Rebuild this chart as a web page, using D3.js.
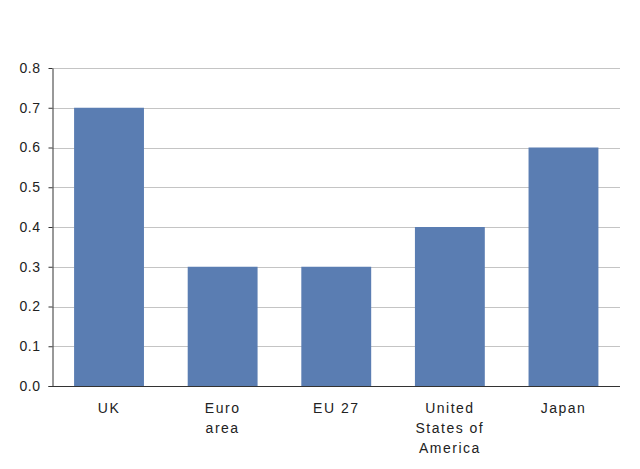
<!DOCTYPE html>
<html><head><meta charset="utf-8">
<script src="https://cdn.jsdelivr.net/npm/d3@7"></script>
<style>body{margin:0;background:#fff}svg{display:block}text{font-family:"Liberation Sans",Arial,sans-serif;fill:#222}</style>
</head><body><svg id="c" width="640" height="469"></svg>
<script>
const categories = [["UK"], ["Euro","area"], ["EU 27"], ["United","States of","America"], ["Japan"]];
const values = [0.7, 0.3, 0.3, 0.4, 0.6];
const yTicks = [0,0.1,0.2,0.3,0.4,0.5,0.6,0.7,0.8];

const svg = d3.select("#c");
const m = {l:52.5, r:620, t:68, b:386};
const names = categories.map(c=>c.join(" "));
const x = d3.scaleBand().domain(names).range([m.l, m.r]).paddingInner(0.385).paddingOuter(0.19);
const y = d3.scaleLinear().domain([0,0.8]).range([m.b, m.t]);

svg.append("g").selectAll("line").data(yTicks.slice(1)).join("line")
  .attr("x1", m.l).attr("x2", m.r).attr("y1", d=>Math.round(y(d))+0.5).attr("y2", d=>Math.round(y(d))+0.5)
  .attr("stroke", "#c4c4c4").attr("stroke-width", 1);

svg.append("g").selectAll("rect").data(values).join("rect")
  .attr("x", (d,i)=>x(names[i])).attr("width", x.bandwidth())
  .attr("y", d=>y(d)).attr("height", d=>m.b - y(d))
  .attr("fill", "#5a7db2");

const ya = svg.append("g").attr("transform", `translate(${m.l},0)`)
  .call(d3.axisLeft(y).tickValues(yTicks).tickFormat(d3.format(".1f")).tickSize(4).tickSizeOuter(0));
ya.select(".domain").attr("stroke", "#333");
ya.selectAll(".tick line").attr("stroke", "#333");
ya.selectAll(".tick text").attr("font-size", 14).attr("letter-spacing", "0.5px").attr("x", -12).attr("fill","#222");

svg.append("line").attr("x1", m.l-4).attr("x2", m.r).attr("y1", m.b+0.5).attr("y2", m.b+0.5).attr("stroke", "#333");

const lab = svg.append("g").selectAll("text").data(categories).join("text")
  .attr("text-anchor", "middle").attr("font-size", 14).attr("letter-spacing", "1.5px")
  .attr("transform", (d,i)=>`translate(${x(names[i]) + x.bandwidth()/2},413)`);
lab.selectAll("tspan").data(d=>d).join("tspan").attr("x", 0).attr("y", (d,i)=>i*20).text(d=>d);
</script></body></html>
